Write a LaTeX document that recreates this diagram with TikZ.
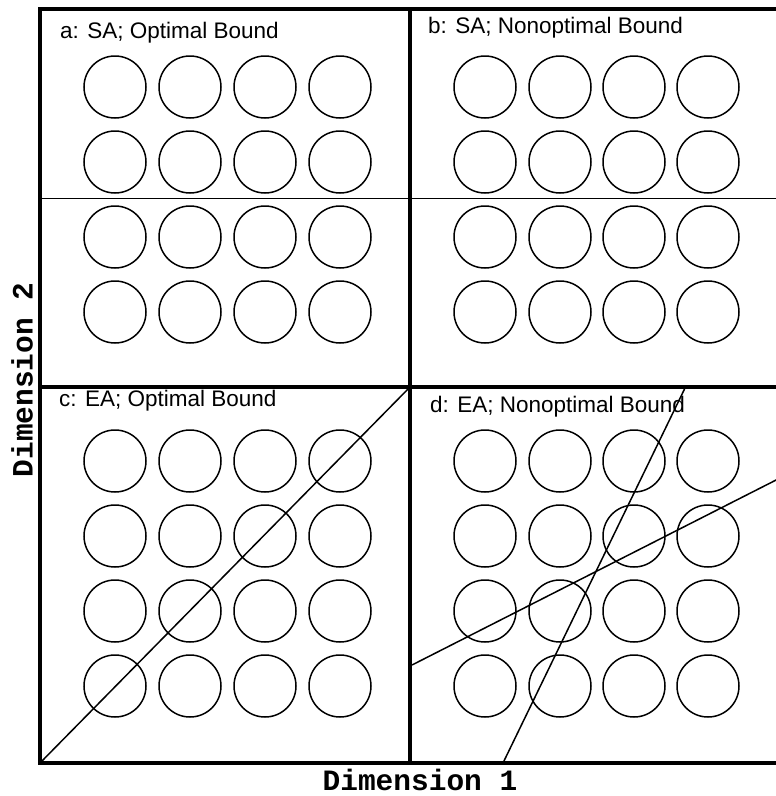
\documentclass[tikz,border=0pt]{standalone}
\usepackage{fontspec}
\setmainfont{Liberation Sans}
\setmonofont{Liberation Mono}
\usetikzlibrary{positioning}

\begin{document}
\begin{tikzpicture}[
    x=1pt, y=-1pt,
    frame/.style={line width=4pt, line cap=rect},
    divider/.style={line width=4pt},
    dot/.style={
        circle, draw,
        line width=1.5pt,
        minimum size=62pt,
        inner sep=0pt
    },
    bound/.style={line width=1.5pt},
    flat/.style={line width=1pt},
    title/.style={
        anchor=base west, inner sep=0pt,
        font=\fontsize{22.5}{26}\selectfont
    },
    axis/.style={
        inner sep=0pt,
        font=\fontsize{29.5}{31}\selectfont\ttfamily\bfseries
    }
]
\useasboundingbox (0,0) rectangle (776,796);

% Frame corners
\coordinate (tl) at (40,9);
\coordinate (tm) at (410,9);
\coordinate (tr) at (782,9);
\coordinate (ml) at (40,387);
\coordinate (mm) at (410,387);
\coordinate (mr) at (782,387);
\coordinate (bl) at (40,763);
\coordinate (bm) at (410,763);
\coordinate (br) at (782,763);

% Frame
\draw[frame] (tr) -- (tl) -- (bl) -- (br);
\draw[divider] (tm) -- (bm);
\draw[divider] (ml) -- (mr);

% Titles
\node[title] (ta) at (60,38) {a: SA; Optimal Bound};
\node[title] (tb) at (428,33) {b: SA; Nonoptimal Bound};
\node[title] (tc) at (59,406) {c: EA; Optimal Bound};
\node[title] (td) at (430,412) {d: EA; Nonoptimal Bound};

% Stimuli
\foreach \i/\x in {1/115, 2/190, 3/265, 4/340} {
    \foreach \j/\y in {1/87, 2/162, 3/237, 4/312}
        \node[dot] (a-\j-\i) at (\x,\y) {};
    \foreach \j/\y in {1/461, 2/536, 3/611, 4/686}
        \node[dot] (c-\j-\i) at (\x,\y) {};
}
\foreach \i/\x in {1/485, 2/560, 3/634, 4/708} {
    \foreach \j/\y in {1/87, 2/162, 3/237, 4/312}
        \node[dot] (b-\j-\i) at (\x,\y) {};
    \foreach \j/\y in {1/461, 2/536, 3/611, 4/686}
        \node[dot] (d-\j-\i) at (\x,\y) {};
}

% Bounds
\coordinate (sa-l) at (40,198);
\coordinate (sa-r) at (782,198);
\draw[flat] (sa-l) -- (sa-r);

\draw[bound] (bl) -- (mm);

\coordinate (d-up) at (685,388);
\coordinate (d-down) at (503,763);
\coordinate (d-left) at (412,665);
\coordinate (d-right) at (782,477);
\draw[bound] (d-up) -- (d-down);
\draw[bound] (d-left) -- (d-right);

% Axes
\node[axis] (dim1) at (420,780) {Dimension 1};
\node[axis, rotate=90] (dim2) at (22,380) {Dimension 2};

\end{tikzpicture}
\end{document}
